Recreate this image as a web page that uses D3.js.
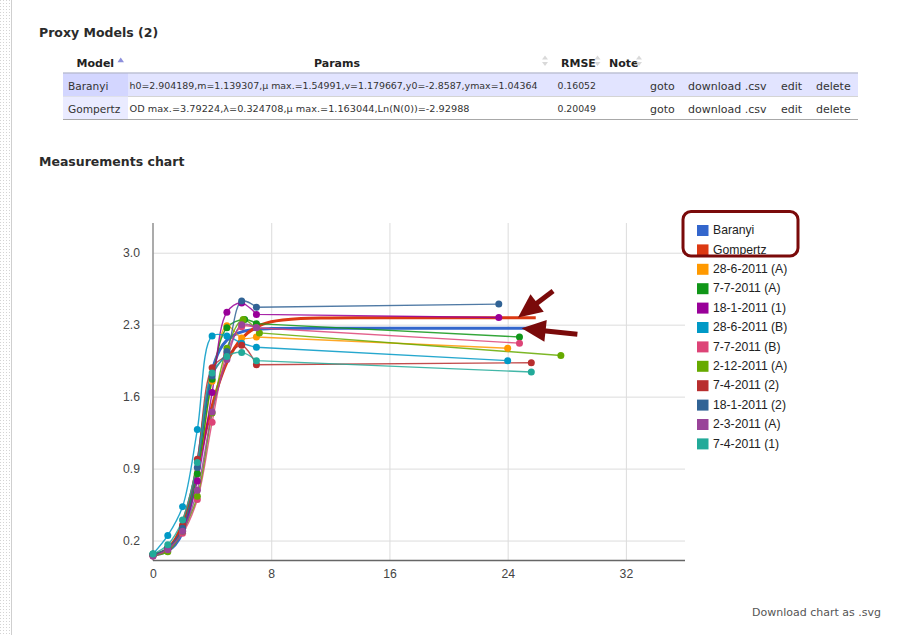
<!DOCTYPE html>
<html><head><meta charset="utf-8">
<script src="https://cdn.jsdelivr.net/npm/d3@7"></script>
<style>
html,body{margin:0;padding:0;background:#fff;}
svg{display:block;}
</style></head><body>
<svg id="page" width="902" height="635"></svg>
<script>
// ---- axis ticks ----
const xTicks = [0, 8, 16, 24, 32];
const yTicks = [0.2, 0.9, 1.6, 2.3, 3.0];

// ---- fitted model curves (time in h, OD) ----
const baranyiT = [0, 0.5, 1, 1.5, 2, 2.5, 3, 3.5, 4, 4.5, 5, 5.5, 6, 7, 8, 10, 25.9];
const baranyiV = [0.06, 0.07, 0.10, 0.16, 0.28, 0.52, 0.92, 1.45, 1.85, 2.05, 2.15, 2.20, 2.23, 2.255, 2.262, 2.265, 2.265];
const gompertzT = [0, 0.5, 1, 1.5, 2, 2.5, 3, 3.5, 4, 4.5, 5, 5.5, 6, 7, 8, 10, 12, 16, 25.9];
const gompertzV = [0.060, 0.077, 0.120, 0.210, 0.370, 0.609, 0.906, 1.219, 1.507, 1.747, 1.933, 2.069, 2.165, 2.278, 2.329, 2.361, 2.366, 2.368, 2.368];

// ---- measurement series ----
const m28_6_A_t = [0, 1, 2, 3, 4, 5, 6, 7, 24];
const m28_6_A_v = [0.06, 0.13, 0.33, 0.85, 1.75, 2.29, 2.17, 2.18, 2.07];
const m7_7_A_t = [0, 1, 2, 3, 4, 5, 6.2, 7, 24.8];
const m7_7_A_v = [0.07, 0.12, 0.32, 0.85, 1.77, 2.27, 2.35, 2.31, 2.18];
const m18_1_1_t = [0, 1, 2, 3, 4, 5, 6, 7, 23.4];
const m18_1_1_v = [0.06, 0.12, 0.30, 0.78, 1.64, 2.42, 2.51, 2.40, 2.37];
const m28_6_B_t = [0, 1, 2, 3, 4, 5, 6, 7, 24];
const m28_6_B_v = [0.07, 0.25, 0.53, 1.28, 2.19, 2.19, 2.12, 2.08, 1.95];
const m7_7_B_t = [0, 1, 2, 3, 4, 5, 6, 7, 24.8];
const m7_7_B_v = [0.05, 0.12, 0.27, 0.60, 1.35, 2.02, 2.28, 2.27, 2.12];
const m2_12_A_t = [0, 1, 2, 3, 4, 5, 6.1, 7.2, 27.6];
const m2_12_A_v = [0.06, 0.09, 0.29, 0.63, 1.44, 2.07, 2.35, 2.22, 2.00];
const m7_4_2_t = [0, 1, 2, 3, 4, 5, 6, 7, 25.6];
const m7_4_2_v = [0.06, 0.13, 0.35, 0.99, 1.88, 2.00, 2.10, 1.91, 1.93];
const m18_1_2_t = [0, 1, 2, 3, 4, 5, 6, 7, 23.4];
const m18_1_2_v = [0.06, 0.13, 0.32, 0.91, 1.80, 2.04, 2.53, 2.47, 2.50];
const m2_3_A_t = [0, 1, 2, 3, 4, 5, 6, 7];
const m2_3_A_v = [0.05, 0.11, 0.29, 0.69, 1.45, 1.96, 2.30, 2.27];
const m7_4_1_t = [0, 1, 2, 3, 4, 5, 6, 7, 25.6];
const m7_4_1_v = [0.07, 0.16, 0.40, 0.96, 1.83, 1.99, 2.03, 1.95, 1.84];

// ---- legend ----
const seriesNames = ["Baranyi", "Gompertz", "28-6-2011 (A)", "7-7-2011 (A)", "18-1-2011 (1)", "28-6-2011 (B)",
  "7-7-2011 (B)", "2-12-2011 (A)", "7-4-2011 (2)", "18-1-2011 (2)", "2-3-2011 (A)", "7-4-2011 (1)"];
const seriesColors = ["#3366cc", "#dc3912", "#ff9900", "#109618", "#990099", "#0099c6",
  "#dd4477", "#66aa00", "#b82e2e", "#316395", "#994499", "#22aa99"];

// ---- table ----
const tableHeaders = ["Model", "Params", "RMSE", "Note"];
const modelNames = ["Baranyi", "Gompertz"];
const modelParams = [
  "h0=2.904189,m=1.139307,\u03bc max.=1.54991,v=1.179667,y0=-2.8587,ymax=1.04364",
  "OD max.=3.79224,\u03bb=0.324708,\u03bc max.=1.163044,Ln(N(0))=-2.92988"
];
const modelRmse = ["0.16052", "0.20049"];
const rowLinks = ["goto", "download .csv", "edit", "delete"];

const svg = d3.select("#page");
const uiFont = "'DejaVu Sans', Verdana, sans-serif";
const chartFont = "'Liberation Sans', Arial, sans-serif";

// left dotted page gutter
const defs = svg.append("defs");
const pat = defs.append("pattern").attr("id", "dots").attr("width", 3).attr("height", 3)
  .attr("patternUnits", "userSpaceOnUse");
pat.append("rect").attr("width", 1).attr("height", 1).attr("fill", "#d4d4d4");
svg.append("rect").attr("x", 0).attr("y", 0).attr("width", 10).attr("height", 635).attr("fill", "url(#dots)");
svg.append("line").attr("x1", 11.5).attr("x2", 11.5).attr("y1", 0).attr("y2", 635)
  .attr("stroke", "#cfcfcf").attr("stroke-width", 1);

// ---- section titles ----
svg.append("text").attr("x", 39).attr("y", 37).attr("font-family", uiFont).attr("font-weight", "bold")
  .attr("font-size", 12.5).attr("fill", "#2b2b2b").text("Proxy Models (2)");
svg.append("text").attr("x", 39).attr("y", 166).attr("font-family", uiFont).attr("font-weight", "bold")
  .attr("font-size", 12.5).attr("fill", "#2b2b2b").text("Measurements chart");

// ---- models table ----
const tbl = svg.append("g");
const tLeft = 63, tRight = 858, col1 = 128;
const rowTop = [73.5, 96.5], rowH = 23;
const rowBg = ["#e2e4ff", "#ffffff"], rowBgSorted = ["#d3d6ff", "#eaebff"];
rowTop.forEach((y, i) => {
  tbl.append("rect").attr("x", tLeft).attr("y", y).attr("width", tRight - tLeft).attr("height", rowH).attr("fill", rowBg[i]);
  tbl.append("rect").attr("x", tLeft).attr("y", y).attr("width", col1 - tLeft).attr("height", rowH).attr("fill", rowBgSorted[i]);
  tbl.append("line").attr("x1", tLeft).attr("x2", tRight).attr("y1", y + rowH).attr("y2", y + rowH)
    .attr("stroke", "#a8a8a8").attr("stroke-width", 1);
});
tbl.append("line").attr("x1", tLeft).attr("x2", tRight).attr("y1", 73).attr("y2", 73)
  .attr("stroke", "#9ea3c0").attr("stroke-width", 1.2);

// header cells
const headerX = [76.5, 337, 561, 609];
const headerAnchor = ["start", "middle", "start", "start"];
tableHeaders.forEach((h, i) => {
  tbl.append("text").attr("x", headerX[i]).attr("y", 66.5).attr("text-anchor", headerAnchor[i])
    .attr("font-family", uiFont).attr("font-weight", "bold").attr("font-size", 11).attr("fill", "#222").text(h);
});
// sort indicators
tbl.append("path").attr("d", "M117.5,62.3 L120.7,57.5 L124,62.3 Z").attr("fill", "#8d8fdc");
[545, 597.5, 639].forEach(cx => {
  tbl.append("path").attr("d", `M${cx-3},59.5 L${cx},55.5 L${cx+3},59.5 Z M${cx-3},62 L${cx},66 L${cx+3},62 Z`)
    .attr("fill", "#d9d9d9");
});
// body cells
const rowBase = [89.5, 112.5];
modelNames.forEach((name, i) => {
  const yb = rowBase[i];
  tbl.append("text").attr("x", 68).attr("y", yb).attr("font-family", uiFont).attr("font-size", 10.6)
    .attr("fill", "#333").text(name);
  tbl.append("text").attr("x", 129.5).attr("y", yb - 0.5).attr("font-family", uiFont).attr("font-size", 9.4)
    .attr("fill", "#333").attr("textLength", i === 0 ? 408 : 340).attr("lengthAdjust", "spacingAndGlyphs")
    .text(modelParams[i]);
  tbl.append("text").attr("x", 557.5).attr("y", yb - 0.5).attr("font-family", uiFont).attr("font-size", 9.3)
    .attr("fill", "#333").text(modelRmse[i]);
  const linkX = [650, 688, 781, 816];
  rowLinks.forEach((l, j) => {
    tbl.append("text").attr("x", linkX[j]).attr("y", yb).attr("font-family", uiFont).attr("font-size", 11)
      .attr("fill", "#333").text(l);
  });
});

// ---- chart ----
const x = d3.scaleLinear().domain([0, 36]).range([153, 685]);
const y = d3.scaleLinear().domain([0.006, 3.289]).range([560.5, 223]);
const chart = svg.append("g");

// gridlines
chart.append("g").attr("transform", `translate(${x(0)},0)`)
  .call(d3.axisLeft(y).tickValues(yTicks).tickSize(-(x(36) - x(0))).tickFormat(""))
  .call(g => g.select(".domain").remove())
  .call(g => g.selectAll("line").attr("stroke", "#dcdcdc").attr("stroke-width", 1));
chart.append("g").attr("transform", `translate(0,${y.range()[0]})`)
  .call(d3.axisBottom(x).tickValues(xTicks.filter(v => v > 0)).tickSize(-(y.range()[0] - y.range()[1])).tickFormat(""))
  .call(g => g.select(".domain").remove())
  .call(g => g.selectAll("line").attr("stroke", "#dcdcdc").attr("stroke-width", 1));

// axis labels
chart.append("g").attr("transform", `translate(${x(0)},0)`)
  .call(d3.axisLeft(y).tickValues(yTicks).tickSize(0).tickPadding(13).tickFormat(d3.format(".1f")))
  .call(g => g.select(".domain").remove())
  .call(g => g.selectAll("text").attr("font-family", chartFont).attr("font-size", 12.2).attr("fill", "#444"));
chart.append("g").attr("transform", `translate(0,${y.range()[0]})`)
  .call(d3.axisBottom(x).tickValues(xTicks).tickSize(0).tickPadding(9).tickFormat(d3.format("d")))
  .call(g => g.select(".domain").remove())
  .call(g => g.selectAll("text").attr("font-family", chartFont).attr("font-size", 12.2).attr("fill", "#444"));

// axis baselines
chart.append("line").attr("x1", x(0)).attr("x2", x(0)).attr("y1", y.range()[1]).attr("y2", y.range()[0])
  .attr("stroke", "#8f8f8f").attr("stroke-width", 1.5);
chart.append("line").attr("x1", x(0)).attr("x2", x(36)).attr("y1", y.range()[0]).attr("y2", y.range()[0])
  .attr("stroke", "#666").attr("stroke-width", 1.5);

// smooth curve through the growth phase; long gaps to a late reading drawn straight
const smooth = d3.line().x(d => x(d[0])).y(d => y(d[1])).curve(d3.curveCatmullRom.alpha(0.5));
function seriesPath(pts) {
  let cut = pts.length;
  while (cut > 2 && pts[cut - 1][0] - pts[cut - 2][0] > 5) cut--;
  let d = smooth(pts.slice(0, cut));
  for (let k = cut; k < pts.length; k++) d += `L${x(pts[k][0])},${y(pts[k][1])}`;
  return d;
}
const zip = (ts, vs) => ts.map((t, i) => [t, vs[i]]);

const measurements = [
  zip(m28_6_A_t, m28_6_A_v), zip(m7_7_A_t, m7_7_A_v), zip(m18_1_1_t, m18_1_1_v),
  zip(m28_6_B_t, m28_6_B_v), zip(m7_7_B_t, m7_7_B_v), zip(m2_12_A_t, m2_12_A_v),
  zip(m7_4_2_t, m7_4_2_v), zip(m18_1_2_t, m18_1_2_v), zip(m2_3_A_t, m2_3_A_v),
  zip(m7_4_1_t, m7_4_1_v)
];
const models = [zip(baranyiT, baranyiV), zip(gompertzT, gompertzV)];

// model curves
models.forEach((pts, i) => {
  chart.append("path").attr("d", seriesPath(pts)).attr("fill", "none")
    .attr("stroke", seriesColors[i]).attr("stroke-width", 3).attr("stroke-linejoin", "round");
});
// measurement lines + points
measurements.forEach((pts, i) => {
  const c = seriesColors[i + 2];
  chart.append("path").attr("d", seriesPath(pts)).attr("fill", "none")
    .attr("stroke", c).attr("stroke-width", 1.4).attr("stroke-opacity", 0.85);
});
measurements.forEach((pts, i) => {
  const c = seriesColors[i + 2];
  chart.append("g").selectAll("circle").data(pts).join("circle")
    .attr("cx", d => x(d[0])).attr("cy", d => y(d[1])).attr("r", 3.5).attr("fill", c);
});

// legend
const leg = chart.append("g");
seriesNames.forEach((n, i) => {
  const yy = 225 + i * 19.4;
  leg.append("rect").attr("x", 697).attr("y", yy).attr("width", 11.5).attr("height", 11).attr("fill", seriesColors[i]);
  leg.append("text").attr("x", 713).attr("y", yy + 9.2).attr("font-family", chartFont).attr("font-size", 12.2)
    .attr("fill", "#222").text(n);
});
// highlight around the model entries
leg.append("rect").attr("x", 683).attr("y", 211.5).attr("width", 115).attr("height", 44.5).attr("rx", 8)
  .attr("fill", "none").attr("stroke", "#7a0a0a").attr("stroke-width", 3);

// arrows pointing at the model plateaus
const arrowColor = "#7a0a0a";
function arrow(tipT, tipV, dx, dy, len) {
  const tx = x(tipT), ty = y(tipV);
  const L = Math.hypot(dx, dy), ux = dx / L, uy = dy / L, px = -uy, py = ux;
  const headL = 24, headW = 11;
  const bx = tx + ux * headL, by = ty + uy * headL;
  chart.append("line").attr("x1", bx - ux * 2).attr("y1", by - uy * 2)
    .attr("x2", tx + ux * len).attr("y2", ty + uy * len)
    .attr("stroke", arrowColor).attr("stroke-width", 5);
  chart.append("path").attr("d", `M${tx},${ty} L${bx + px * headW},${by + py * headW} L${bx - px * headW},${by - py * headW} Z`)
    .attr("fill", arrowColor);
}
arrow(24.7, 2.37, 33, -25, 44);
arrow(24.95, 2.265, 55, 6, 56);

// download link
svg.append("text").attr("x", 752).attr("y", 615.5).attr("font-family", uiFont).attr("font-size", 11)
  .attr("fill", "#555").text("Download chart as .svg");
</script>
</body></html>
